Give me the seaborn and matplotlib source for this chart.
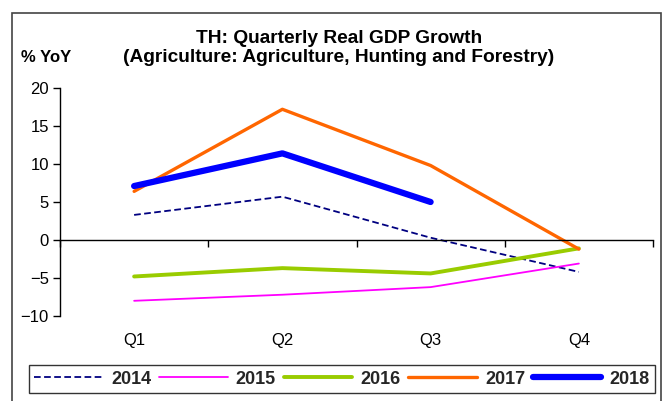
# %%
import numpy as np
import pandas as pd
import matplotlib
matplotlib.use('Agg')
import matplotlib.pyplot as plt
import seaborn as sns
from matplotlib.patches import Rectangle

# %%
# data (% YoY)
quarters = ['Q1', 'Q2', 'Q3', 'Q4']
y2014 = [3.3, 5.7, 0.3, -4.2]
y2015 = [-8.0, -7.2, -6.2, -3.1]
y2016 = [-4.8, -3.7, -4.4, -1.1]
y2017 = [6.4, 17.2, 9.8, -1.2]
y2018 = [7.1, 11.4, 5.0, np.nan]
years = ['2014', '2015', '2016', '2017', '2018']
y_ticks = [-10, -5, 0, 5, 10, 15, 20]

series = {'2014': y2014, '2015': y2015, '2016': y2016,
          '2017': y2017, '2018': y2018}
data = pd.DataFrame([
    {'year': yr, 'pos': i, 'value': v}
    for yr in years for i, v in enumerate(series[yr])
])

# styles
styles = {
    '2014': dict(color='#000080', lw=1.3, ls=(0, (3.7, 1.9))),
    '2015': dict(color='#FF00FF', lw=1.3, ls='-'),
    '2016': dict(color='#99CC00', lw=2.8, ls='-'),
    '2017': dict(color='#FF6600', lw=2.4, ls='-'),
    '2018': dict(color='#0000FF', lw=4.5, ls='-'),
}

# %%
sns.set_theme(style='white')
plt.rcParams['font.family'] = ['Liberation Sans', 'DejaVu Sans']

fig = plt.figure(figsize=(6.67, 4.01), dpi=100)
W, H = 667, 401
ax = fig.add_axes([60 / W, 1 - 316 / H, (653 - 60) / W, (316 - 88) / H])

for yr in years:
    st = styles[yr]
    sub = data[data['year'] == yr].dropna()
    sns.lineplot(x='pos', y='value', data=sub, ax=ax, color=st['color'],
                 linewidth=st['lw'], linestyle=st['ls'], label=yr,
                 legend=False, estimator=None, sort=False)

ax.set_xlim(-0.5, 3.5)
ax.set_ylim(-10, 20)
ax.set_xlabel('')
ax.set_ylabel('')

# y axis
ax.set_yticks(y_ticks)
ax.tick_params(axis='y', direction='out', length=5, width=1, color='black',
               left=True, pad=3, labelsize=12, labelcolor='black')
for s in ['top', 'right']:
    ax.spines[s].set_visible(False)
ax.spines['left'].set_color('black')
ax.spines['left'].set_linewidth(1)

# zero line with category boundary ticks
ax.spines['bottom'].set_position(('data', 0))
ax.spines['bottom'].set_color('black')
ax.spines['bottom'].set_linewidth(1)
ax.set_xticks(np.arange(-0.5, 4, 1))
ax.set_xticklabels([])
ax.tick_params(axis='x', direction='out', length=5, width=1, color='black',
               bottom=True)

# quarter labels at the bottom
sec = ax.secondary_xaxis('bottom')
sec.set_xticks(range(len(quarters)))
sec.set_xticklabels(quarters)
sec.spines['bottom'].set_visible(False)
sec.tick_params(axis='x', length=0, pad=12, labelsize=12, labelcolor='black')

# titles
fig.text(339 / W, 1 - 48 / H,
         'TH: Quarterly Real GDP Growth\n(Agriculture: Agriculture, Hunting and Forestry)',
         ha='center', va='center', fontsize=13.8, fontweight='bold',
         linespacing=1.15, color='black')
fig.text(21 / W, 1 - 58 / H, '% YoY', ha='left', va='center',
         fontsize=12, fontweight='bold', color='black')

# legend
handles, labels = ax.get_legend_handles_labels()
leg = fig.legend(handles, labels, ncol=5, mode='expand',
                 bbox_to_anchor=(29 / W, 1 - 393 / H, 626 / W, 25 / H),
                 loc='lower left', borderaxespad=0, frameon=True,
                 fancybox=False, handlelength=3.8, handletextpad=0.45,
                 columnspacing=0.8, borderpad=0.3,
                 prop={'weight': 'bold', 'size': 13})
leg.get_frame().set_edgecolor('black')
leg.get_frame().set_linewidth(1)

# outer chart border
fig.patches.append(Rectangle((12 / W, -0.02), (661 - 12) / W, (401 - 13) / H + 0.02,
                             transform=fig.transFigure, fill=False,
                             edgecolor='#444444', linewidth=1.2))

fig.savefig('out.png', dpi=100, facecolor='white')
